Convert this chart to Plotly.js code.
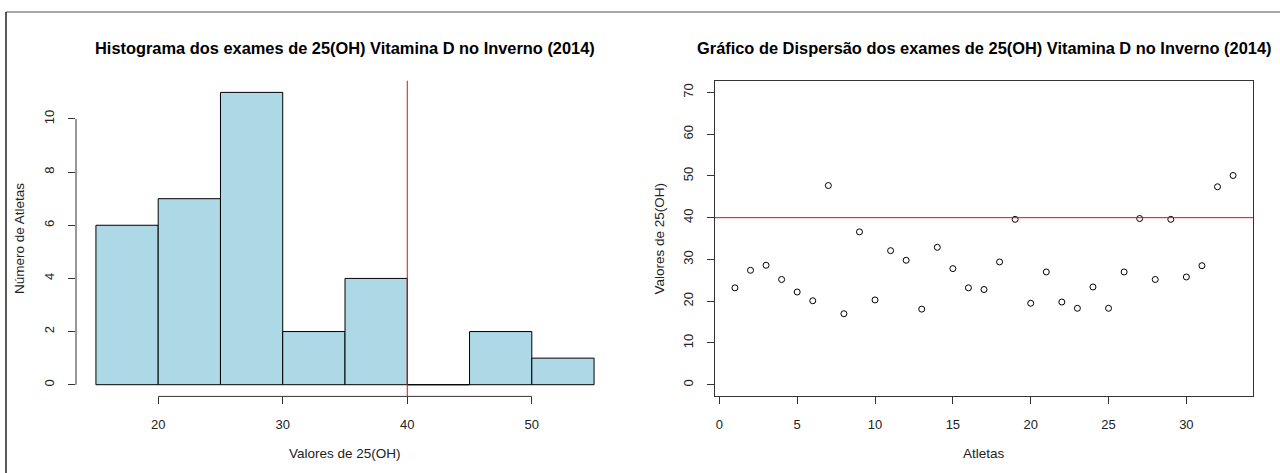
<!DOCTYPE html>
<html>
<head>
<meta charset="utf-8">
<script src="https://cdn.plot.ly/plotly-3.0.1.min.js"></script>
<style>
  html, body { margin: 0; padding: 0; background: #fff; }
  #chart { width: 1280px; height: 473px; }
</style>
</head>
<body>
<div id="chart"></div>
<script>
// 25(OH) vitamin D results per athlete, winter 2014
const atletas = [1,2,3,4,5,6,7,8,9,10,11,12,13,14,15,16,17,18,19,20,21,22,23,24,25,26,27,28,29,30,31,32,33];
const valores = [23.2, 27.4, 28.6, 25.2, 22.2, 20.1, 47.7, 17.0, 36.6, 20.3, 32.1,
                 29.8, 18.1, 32.9, 27.8, 23.2, 22.8, 29.4, 39.6, 19.5, 27.0, 19.8,
                 18.3, 23.4, 18.3, 27.0, 39.8, 25.2, 39.6, 25.8, 28.5, 47.4, 50.1];

// histogram breaks (right-closed intervals, as in R's hist)
const quebras = [15, 20, 25, 30, 35, 40, 45, 50, 55];
const limiar = 40;  // sufficiency threshold

const histXTicks = [20, 30, 40, 50];
const histYTicks = [0, 2, 4, 6, 8, 10];
const dispXTicks = [0, 5, 10, 15, 20, 25, 30];
const dispYTicks = [0, 10, 20, 30, 40, 50, 60, 70];

const tituloHist = 'Histograma dos exames de 25(OH) Vitamina D no Inverno (2014)';
const tituloDisp = 'Gráfico de Dispersão dos exames de 25(OH) Vitamina D no Inverno (2014)';

// count values into bins
const contagens = quebras.slice(0, -1).map((a, i) => {
  const b = quebras[i + 1];
  return valores.filter(v => (i === 0 ? v >= a : v > a) && v <= b).length;
});
const meios = quebras.slice(0, -1).map((a, i) => (a + quebras[i + 1]) / 2);
const larguras = quebras.slice(0, -1).map((a, i) => quebras[i + 1] - a);

const W = 1280, H = 473;
const px = x => x / W;
const py = y => 1 - y / H;

const FONT = '"Liberation Sans", Arial, sans-serif';
const TXT = '#222';
const AX = '#333';

// plot regions
const regHist = [76, 614];
const regDisp = [715, 1253];
const regY = [80.7, 396.4];

// R-style 4% padding on axis ranges
function pad(lo, hi) { const d = (hi - lo) * 0.04; return [lo - d, hi + d]; }

const traces = [
  {
    type: 'bar', x: meios, y: contagens, width: larguras,
    marker: { color: '#ADD8E6', line: { color: '#000', width: 1 } },
    xaxis: 'x', yaxis: 'y', hoverinfo: 'x+y'
  },
  {
    type: 'scatter', mode: 'markers', x: atletas, y: valores,
    marker: { symbol: 'circle-open', size: 6, color: '#000', line: { width: 1, color: '#000' } },
    xaxis: 'x2', yaxis: 'y2'
  }
];

const tickCommon = {
  ticks: 'outside', ticklen: 7, tickwidth: 1, tickcolor: AX,
  tickfont: { family: FONT, size: 13, color: TXT },
  showgrid: false, zeroline: false, ticklabelstandoff: 9
};

const shapes = [
  // outer frame
  { type: 'line', xref: 'paper', yref: 'paper', x0: px(6), x1: px(1280), y0: py(12), y1: py(12), line: { color: '#888', width: 1.5 } },
  { type: 'line', xref: 'paper', yref: 'paper', x0: px(6), x1: px(6), y0: py(12), y1: py(473), line: { color: '#222', width: 1.5 } },
  // histogram axes spanning the tick range only
  { type: 'line', xref: 'x', yref: 'y domain', x0: histXTicks[0], x1: histXTicks[histXTicks.length - 1], y0: 0, y1: 0, line: { color: AX, width: 1 } },
  { type: 'line', xref: 'x domain', yref: 'y', x0: 0, x1: 0, y0: histYTicks[0], y1: histYTicks[histYTicks.length - 1], line: { color: AX, width: 1 } },
  // threshold lines
  { type: 'line', xref: 'x', yref: 'y domain', x0: limiar, x1: limiar, y0: 0, y1: 1, line: { color: '#FF0000', width: 1 } },
  { type: 'line', xref: 'x2 domain', yref: 'y2', x0: 0, x1: 1, y0: limiar, y1: limiar, line: { color: '#FF0000', width: 1 } }
];
// empty bins still show their outline along the baseline
contagens.forEach((c, i) => {
  if (c === 0) shapes.push({ type: 'line', xref: 'x', yref: 'y', layer: 'below',
    x0: quebras[i], x1: quebras[i + 1], y0: 0, y1: 0, line: { color: '#777', width: 1 } });
});

const ann = (text, x, y, size, extra) => Object.assign({
  text, x, y, xref: 'paper', yref: 'paper', showarrow: false,
  xanchor: 'center', yanchor: 'middle',
  font: { family: FONT, size, color: TXT }
}, extra || {});

const TITLE_FONT = { family: FONT, size: 16.4, color: '#000' };

const annotations = [
  ann('<b>' + tituloHist + '</b>', px((regHist[0] + regHist[1]) / 2), py(48), 16.4, { font: TITLE_FONT }),
  ann('<b>' + tituloDisp + '</b>', px((regDisp[0] + regDisp[1]) / 2), py(48), 16.4, { font: TITLE_FONT }),
  ann('Valores de 25(OH)', px((regHist[0] + regHist[1]) / 2), py(453), 13.5),
  ann('Atletas', px((regDisp[0] + regDisp[1]) / 2), py(453), 13.5),
  ann('Número de Atletas', px(19.5), py((regY[0] + regY[1]) / 2), 13.5, { textangle: -90 }),
  ann('Valores de 25(OH)', px(660), py((regY[0] + regY[1]) / 2), 13.5, { textangle: -90 })
];

const layout = {
  width: W, height: H,
  margin: { l: 0, r: 0, t: 0, b: 0 },
  paper_bgcolor: '#fff', plot_bgcolor: '#fff',
  showlegend: false,
  bargap: 0,
  xaxis: Object.assign({}, tickCommon, {
    domain: [px(regHist[0]), px(regHist[1])], range: pad(quebras[0], quebras[quebras.length - 1]),
    tickvals: histXTicks, showline: false, anchor: 'y'
  }),
  yaxis: Object.assign({}, tickCommon, {
    domain: [py(regY[1]), py(regY[0])], range: pad(0, Math.max(...contagens)),
    tickvals: histYTicks, tickangle: -90, showline: false, anchor: 'x'
  }),
  xaxis2: Object.assign({}, tickCommon, {
    domain: [px(regDisp[0]), px(regDisp[1])], range: pad(atletas[0], atletas[atletas.length - 1]),
    tickvals: dispXTicks, showline: true, mirror: true, linecolor: AX, linewidth: 1, anchor: 'y2'
  }),
  yaxis2: Object.assign({}, tickCommon, {
    domain: [py(regY[1]), py(regY[0])], range: pad(0, 70),
    tickvals: dispYTicks, tickangle: -90, showline: true, mirror: true, linecolor: AX, linewidth: 1, anchor: 'x2'
  }),
  shapes, annotations
};

Plotly.newPlot('chart', traces, layout, { displayModeBar: false, staticPlot: true });
</script>
</body>
</html>
